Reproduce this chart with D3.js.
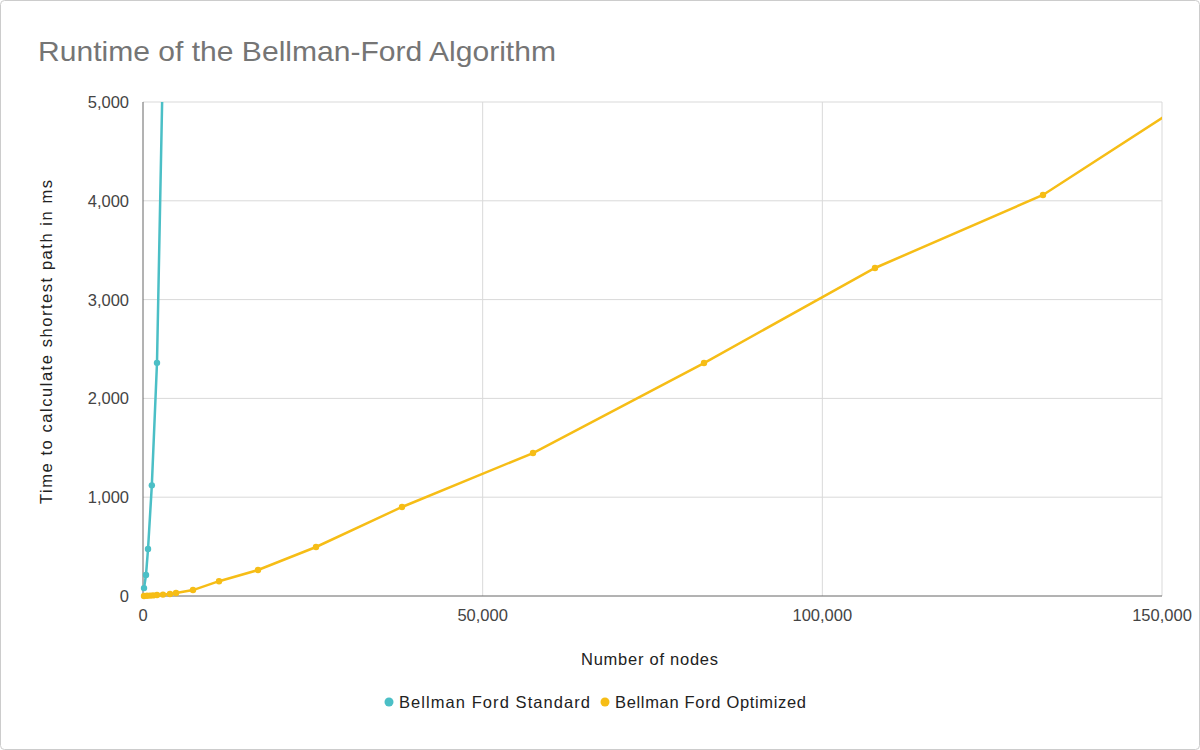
<!DOCTYPE html>
<html><head><meta charset="utf-8">
<script src="https://cdn.jsdelivr.net/npm/d3@7"></script>
<style>body{margin:0;background:#fff;font-family:"Liberation Sans",Arial,sans-serif}</style>
</head><body><svg id="c" width="1200" height="750"></svg>
<script>
const stdX=[150,440,740,1300,2060,4100];
const stdY=[80,212,475,1120,2360,9500];
const optX=[150,590,1030,1470,2060,2940,3970,4860,7360,11190,16930,25470,38130,57410,82580,107750,132480,157000];
const optY=[0,2,4,6,10,14,20,30,60,150,263,496,901,1447,2358,3320,4059,5150];
const xTicks=[0,50000,100000,150000];
const yTicks=[0,1000,2000,3000,4000,5000];
const svg=d3.select("#c");
svg.append("rect").attr("x",0.5).attr("y",0.5).attr("width",1199).attr("height",749).attr("rx",4).attr("fill","#fff").attr("stroke","#ccc");
const L=143,R=1162,T=102,B=596;
const x=d3.scaleLinear().domain([0,150000]).range([L,R]);
const y=d3.scaleLinear().domain([0,5000]).range([B,T]);
const g=svg.append("g");
g.selectAll(".hg").data(yTicks.slice(1)).join("line").attr("x1",L).attr("x2",R).attr("y1",d=>y(d)).attr("y2",d=>y(d)).attr("stroke","#d9d9d9");
g.selectAll(".vg").data(xTicks.slice(1)).join("line").attr("y1",T).attr("y2",B).attr("x1",d=>x(d)).attr("x2",d=>x(d)).attr("stroke","#d9d9d9");
const fmt=d3.format(",");
g.selectAll(".yt").data(yTicks).join("text").attr("x",L-14).attr("y",d=>y(d)+6).attr("text-anchor","end").attr("font-size",16.5).attr("fill","#444").text(fmt);
g.selectAll(".xt").data(xTicks).join("text").attr("x",d=>x(d)).attr("y",B+25).attr("text-anchor","middle").attr("font-size",16.5).attr("fill","#444").text(fmt);
svg.append("defs").append("clipPath").attr("id","cp").append("rect").attr("x",L-5).attr("y",T).attr("width",R-L+5).attr("height",B-T+5);
const pl=svg.append("g").attr("clip-path","url(#cp)");
const line=d3.line().x(d=>x(d[0])).y(d=>y(d[1]));
function series(xs,ys,col){
  const d=xs.map((v,i)=>[v,ys[i]]);
  pl.append("path").datum(d).attr("d",line).attr("fill","none").attr("stroke",col).attr("stroke-width",2.5);
  pl.selectAll(null).data(d).join("circle").attr("cx",p=>x(p[0])).attr("cy",p=>y(p[1])).attr("r",3.2).attr("fill",col);
}
series(optX,optY,"#f6bd16");
series(stdX,stdY,"#4bbfc6");
g.append("line").attr("x1",L).attr("x2",L).attr("y1",T).attr("y2",B).attr("stroke","#666");
g.append("line").attr("x1",L).attr("x2",R).attr("y1",B).attr("y2",B).attr("stroke","#666");
svg.append("text").attr("x",38).attr("y",61).attr("font-size",28).attr("fill","#757575").attr("textLength",518).attr("lengthAdjust","spacingAndGlyphs").text("Runtime of the Bellman-Ford Algorithm");
svg.append("text").attr("x",581).attr("y",665).attr("font-size",16.5).attr("fill","#222").attr("textLength",137).text("Number of nodes");
svg.append("text").attr("transform","translate(52,504) rotate(-90)").attr("font-size",16.5).attr("fill","#222").attr("textLength",324).text("Time to calculate shortest path in ms");
const leg=[["Bellman Ford Standard","#4bbfc6",389,191],["Bellman Ford Optimized","#f6bd16",605,191]];
leg.forEach(([t,c,lx,w])=>{svg.append("circle").attr("cx",lx).attr("cy",702).attr("r",4.5).attr("fill",c);
 svg.append("text").attr("x",lx+10).attr("y",708).attr("font-size",16.5).attr("fill","#222").attr("textLength",w).text(t);});
</script></body></html>
